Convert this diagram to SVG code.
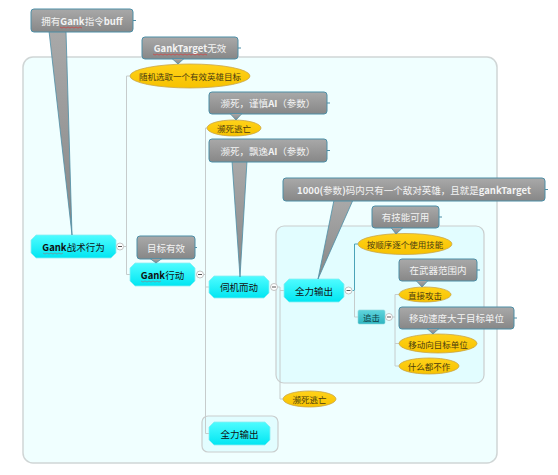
<svg xmlns="http://www.w3.org/2000/svg" width="558" height="475" viewBox="0 0 558 475">
<defs>
<linearGradient id="gGray" x1="0" y1="0" x2="0" y2="1">
<stop offset="0" stop-color="#a9a9a9"/>
<stop offset="1" stop-color="#878787"/>
</linearGradient>
<linearGradient id="gCyan" x1="0" y1="0" x2="0" y2="1">
<stop offset="0" stop-color="#4ffcff"/>
<stop offset="1" stop-color="#00e6f2"/>
</linearGradient>
<linearGradient id="gTeal" x1="0" y1="0" x2="0" y2="1">
<stop offset="0" stop-color="#5fd4dc"/>
<stop offset="1" stop-color="#2fb4c0"/>
</linearGradient>
<linearGradient id="gGold" x1="0" y1="0" x2="0" y2="1">
<stop offset="0" stop-color="#ffd21a"/>
<stop offset="1" stop-color="#f7c200"/>
</linearGradient>
</defs>
<style>
text{font-family:"Noto Sans CJK SC","Liberation Sans",sans-serif;text-anchor:middle;dominant-baseline:central}
.cbox{fill:url(#gGray);stroke:#4c8ea6;stroke-width:1}
.ctail{fill:url(#gGray);stroke:#4c8ea6;stroke-width:0.8}
.ctext{font-size:9.5px;fill:#f3f3f3}
.b{font-weight:bold}
.oct{fill:url(#gCyan);stroke:#8aeef2;stroke-width:0.8}
.ntext{font-size:9.5px;fill:#111}
.ell{fill:url(#gGold);stroke:#c9a64a;stroke-width:0.8}
.etext{font-size:8.5px;fill:#4a3c10}
.conn{fill:none;stroke:#c6cccc;stroke-width:1}
.connT{fill:none;stroke:#4aa3b8;stroke-width:1}
.btn{fill:#ffffff;stroke:#b4b4b4;stroke-width:0.8}
.btnl{stroke:#555;stroke-width:1}
.stub{stroke:#4c8ea6;stroke-width:1}
.wavy{fill:none;stroke:#e03030;stroke-width:0.6}
.bnd{fill:#f0ffff;stroke:#d0d6d6;stroke-width:1.5}
.bnd2{fill:#e2fdff;stroke:#cacece;stroke-width:1.2}
</style>

<g id="boundaries">
<rect class="bnd" x="23" y="57" width="474" height="406" rx="10"/>
<rect class="bnd2" x="276" y="226" width="208" height="157" rx="8"/>
<rect class="bnd2" x="202" y="416" width="76" height="36" rx="6"/>
</g>

<g id="connectors">
<path class="conn" d="M124,246.5 H126.5 M130,76 H126.5 V274.5 H130"/>
<path class="conn" d="M204,274.5 H205.5 M207,128 H205.5 V433.5 H209 M205.5,287 H209"/>
<path class="conn" d="M278,287 H280 V399 H283 M280,290.5 H284"/>
<path class="connT" d="M352.5,290.5 H354.5 V244 H358"/>
<path class="conn" d="M354.5,290.5 V317 H358"/>
<path class="conn" d="M393,317 H395 M399,294.5 H395 V366 H399 M395,343.5 H399"/>
</g>

<g id="n-gank-behavior">
<path class="oct" d="M36,235 H111 L116,240 V253 L111,258 H36 L31,253 V240 Z"/>
<text class="ntext" x="73.5" y="246.5"><tspan class="b">Gank</tspan>战术行为</text>
<polyline class="wavy" points="43,253 45,254 47,253 49,254 51,253 53,254 55,253 57,254 59,253 61,254 63,253" opacity="0.6"/>
<circle class="btn" cx="120" cy="246.5" r="3.5"/><line class="btnl" x1="118" y1="246.5" x2="122" y2="246.5"/>
</g>

<g id="n-random-target">
<ellipse class="ell" cx="190" cy="76" rx="60" ry="12"/>
<text class="etext" x="190" y="76">随机选取一个有效英雄目标</text>
</g>

<g id="n-gank-action">
<path class="oct" d="M135,263 H190 L195,268 V281 L190,286 H135 L130,281 V268 Z"/>
<text class="ntext" x="162.5" y="274.5"><tspan class="b">Gank</tspan>行动</text>
<polyline class="wavy" points="141,281 143,282 145,281 147,282 149,281 151,282 153,281 155,282 157,281 159,282 161,281" opacity="0.6"/>
<circle class="btn" cx="200" cy="274.5" r="3.5"/><line class="btnl" x1="198" y1="274.5" x2="202" y2="274.5"/>
</g>

<g id="n-flee-1">
<ellipse class="ell" cx="234" cy="128" rx="27" ry="8"/>
<text class="etext" x="234" y="128">濒死逃亡</text>
</g>

<g id="n-wait">
<path class="oct" d="M214,276 H264 L269,281 V293 L264,298 H214 L209,293 V281 Z"/>
<text class="ntext" x="239" y="287">伺机而动</text>
<circle class="btn" cx="274" cy="287" r="3.5"/><line class="btnl" x1="272" y1="287" x2="276" y2="287"/>
</g>

<g id="n-full-output">
<path class="oct" d="M289,279 H339 L344,284 V297 L339,302 H289 L284,297 V284 Z"/>
<text class="ntext" x="314" y="290.5">全力输出</text>
<circle class="btn" cx="348.5" cy="290.5" r="3.5"/><line class="btnl" x1="346.5" y1="290.5" x2="350.5" y2="290.5"/>
</g>

<g id="n-use-skills">
<ellipse class="ell" cx="405" cy="244" rx="47" ry="10.5"/>
<text class="etext" x="405" y="244">按顺序逐个使用技能</text>
</g>

<g id="n-chase">
<rect x="358" y="310" width="27" height="14" rx="1.5" fill="url(#gTeal)" stroke="#8fd8de" stroke-width="0.6"/>
<text x="371.5" y="317" style="font-size:8.5px;fill:#0d3d44">追击</text>
<circle class="btn" cx="389" cy="317" r="3.5"/><line class="btnl" x1="387" y1="317" x2="391" y2="317"/>
</g>

<g id="n-attack">
<ellipse class="ell" cx="425" cy="294.5" rx="26" ry="7.5"/>
<text class="etext" x="425" y="294.5">直接攻击</text>
</g>

<g id="n-move">
<ellipse class="ell" cx="438" cy="343.5" rx="39" ry="9.5"/>
<text class="etext" x="438" y="343.5">移动向目标单位</text>
</g>

<g id="n-nothing">
<ellipse class="ell" cx="429" cy="366" rx="30" ry="8"/>
<text class="etext" x="429" y="366">什么都不作</text>
</g>

<g id="n-flee-2">
<ellipse class="ell" cx="309.5" cy="399" rx="26.5" ry="8"/>
<text class="etext" x="309.5" y="399">濒死逃亡</text>
</g>

<g id="n-full-output-2">
<path class="oct" d="M214,422 H265 L270,427 V440 L265,445 H214 L209,440 V427 Z"/>
<text class="ntext" x="239.5" y="433.5">全力输出</text>
</g>

<g id="c-target-valid">
<rect class="cbox" x="137" y="236" width="58" height="23" rx="3"/>
<polygon class="ctail" points="150,258.5 162,258.5 156,263"/>
<line class="stub" x1="195" y1="247.5" x2="197" y2="247.5"/>
<text class="ctext" x="166" y="247.5">目标有效</text>
</g>

<g id="c-caution">
<rect class="cbox" x="209" y="92" width="118" height="22" rx="3"/>
<polygon class="ctail" points="230,113.5 242,113.5 236,120"/>
<line class="stub" x1="327" y1="103" x2="330" y2="103"/>
<text class="ctext" x="268" y="103">濒死，谨慎<tspan class="b">AI</tspan>（参数）</text>
</g>

<g id="c-skill">
<rect class="cbox" x="372" y="206" width="67" height="22" rx="3"/>
<polygon class="ctail" points="391,227.5 403,227.5 396,234"/>
<line class="stub" x1="439" y1="217" x2="442" y2="217"/>
<text class="ctext" x="405.5" y="217">有技能可用</text>
</g>

<g id="c-range">
<rect class="cbox" x="399" y="259" width="78" height="22" rx="3"/>
<polygon class="ctail" points="416,280.5 428,280.5 422,287"/>
<line class="stub" x1="477" y1="270" x2="480" y2="270"/>
<text class="ctext" x="438" y="270">在武器范围内</text>
</g>

<g id="c-speed">
<rect class="cbox" x="399" y="307" width="115" height="22" rx="3"/>
<polygon class="ctail" points="427,328.5 439,328.5 433,334"/>
<line class="stub" x1="514" y1="318" x2="517" y2="318"/>
<text class="ctext" x="456.5" y="318">移动速度大于目标单位</text>
</g>

<g id="c-gank-target-invalid">
<rect class="cbox" x="142" y="37" width="96" height="22" rx="3"/>
<polygon class="ctail" points="172,58.5 184,58.5 178,64"/>
<line class="stub" x1="238" y1="48" x2="241" y2="48"/>
<text class="ctext" x="190" y="48"><tspan class="b">GankTarget</tspan>无效</text>
<polyline class="wavy" points="153,54 155,55 157,54 159,55 161,54 163,55 165,54 167,55 169,54 171,55 173,54 175,55 177,54 179,55 181,54 183,55 185,54 187,55 189,54 191,55 193,54 195,55 197,54 199,55 201,54 203,55 205,54 207,55"/>
</g>

<g id="c-drift">
<polygon class="ctail" points="232,161 247,161 240,277"/>
<rect class="cbox" x="209" y="139" width="118" height="23" rx="3"/>
<line class="stub" x1="327" y1="150.5" x2="330" y2="150.5"/>
<text class="ctext" x="268" y="150.5">濒死，飘逸<tspan class="b">AI</tspan>（参数）</text>
</g>

<g id="c-range-1000">
<polygon class="ctail" points="334,200 353,200 318,279"/>
<rect class="cbox" x="283" y="178" width="262" height="23" rx="3"/>
<line class="stub" x1="545" y1="189.5" x2="548" y2="189.5"/>
<text class="ctext" x="414" y="189.5"><tspan class="b">1000(</tspan>参数<tspan class="b">)</tspan>码内只有一个敌对英雄，且就是<tspan class="b">gankTarget</tspan></text>
</g>

<g id="c-gank-buff">
<polygon class="ctail" points="49,31 66,31 72,235"/>
<rect class="cbox" x="31" y="9" width="102" height="23" rx="3"/>
<line class="stub" x1="133" y1="20.5" x2="136" y2="20.5"/>
<text class="ctext" x="82" y="20.5">拥有<tspan class="b">Gank</tspan>指令<tspan class="b">buff</tspan></text>
<polyline class="wavy" points="60,27 62,28 64,27 66,28 68,27 70,28 72,27 74,28 76,27 78,28 80,27 82,28"/>
</g>
</svg>
